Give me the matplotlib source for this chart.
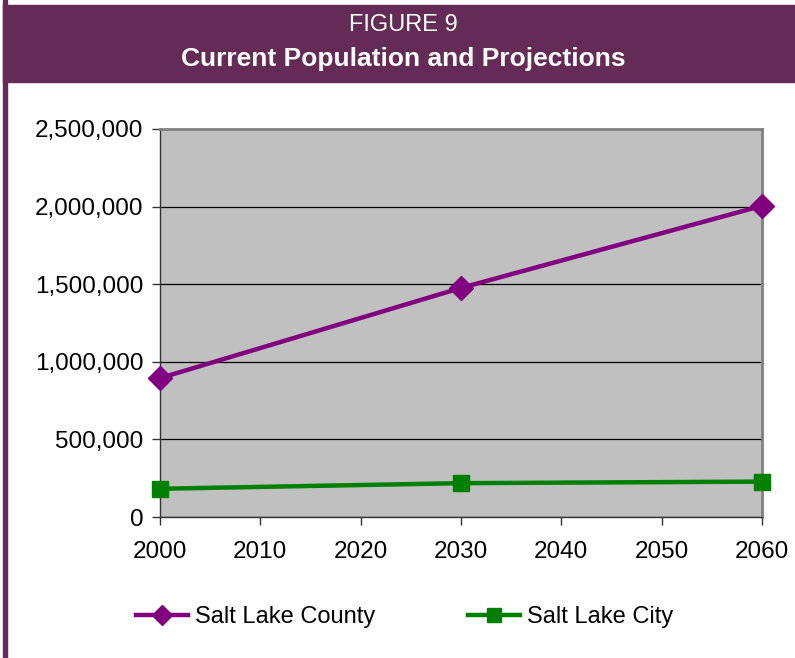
import matplotlib.pyplot as plt
from matplotlib.patches import Rectangle
from matplotlib.ticker import FuncFormatter
from matplotlib.lines import Line2D

plt.rcParams['font.family'] = ['Liberation Sans', 'DejaVu Sans']

# data
years = [2000, 2030, 2060]
county = [895000, 1476000, 2005000]
city = [182000, 218000, 228000]
x_ticks = [2000, 2010, 2020, 2030, 2040, 2050, 2060]
y_ticks = [0, 500000, 1000000, 1500000, 2000000, 2500000]

purple = '#800080'
green = '#008000'
header = '#632B55'

fig = plt.figure(figsize=(7.95, 6.58), dpi=100)

# header band and left border
fig.patches.append(Rectangle((3 / 795, 1 - 82 / 658), 1, 77 / 658,
                             transform=fig.transFigure, color=header, zorder=0))
fig.patches.append(Rectangle((3 / 795, 0), 4 / 795, 1,
                             transform=fig.transFigure, color=header, zorder=0))
fig.text(0.507, 1 - 25 / 658, 'FIGURE 9', ha='center', va='center',
         color='white', fontsize=17)
fig.text(0.507, 1 - 59 / 658, 'Current Population and Projections', ha='center',
         va='center', color='white', fontsize=19, fontweight='bold')

ax = fig.add_axes([160 / 795, 1 - 517 / 658, 602 / 795, 388 / 658])
ax.set_facecolor('#C0C0C0')

ax.plot(years, county, color=purple, lw=3.2, marker='D', ms=12.5,
        label='Salt Lake County', zorder=3, clip_on=False)
ax.plot(years, city, color=green, lw=3.2, marker='s', ms=12,
        label='Salt Lake City', zorder=3, clip_on=False)

ax.set_xlim(2000, 2060)
ax.set_ylim(0, 2500000)
ax.set_xticks(x_ticks)
ax.set_yticks(y_ticks)
ax.yaxis.set_major_formatter(FuncFormatter(lambda v, p: f'{int(v):,}'))
ax.grid(axis='y', color='black', lw=0.9)
ax.set_axisbelow(True)
ax.tick_params(labelsize=17.5, length=6, width=1, color='#333333')
ax.tick_params(axis='x', pad=11)
ax.tick_params(axis='y', pad=6)

for s in ['top', 'right']:
    ax.spines[s].set_color('#808080')
    ax.spines[s].set_linewidth(2)
for s in ['left', 'bottom']:
    ax.spines[s].set_color('#333333')
    ax.spines[s].set_linewidth(1)

handles = [Line2D([], [], color=purple, lw=3.2, marker='D', ms=10),
           Line2D([], [], color=green, lw=3.2, marker='s', ms=10)]
fig.legend(handles, ['Salt Lake County', 'Salt Lake City'], loc='center',
           bbox_to_anchor=(0.509, 1 - 617 / 658), ncol=2, frameon=False,
           fontsize=17, handlelength=2.2, handletextpad=0.3, columnspacing=3.9)

fig.savefig('out.png', dpi=100)
